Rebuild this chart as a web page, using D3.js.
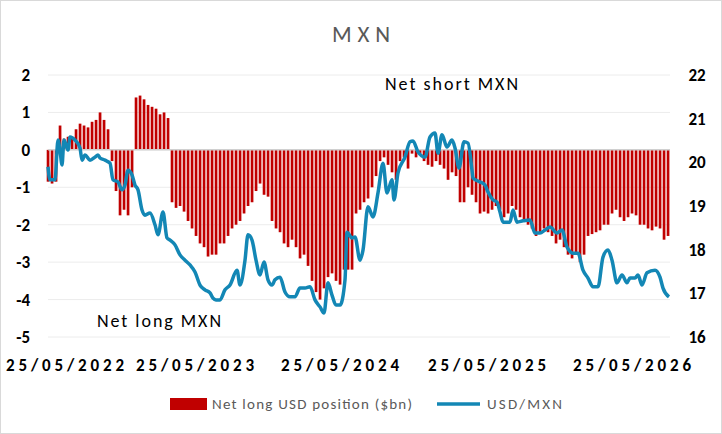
<!DOCTYPE html>
<html><head><meta charset="utf-8">
<script src="https://cdn.jsdelivr.net/npm/d3@7"></script>
<style>body{margin:0;background:#fff}text{font-family:Calibri,Carlito,"Liberation Sans",Arial,sans-serif}</style>
</head><body><svg id="c" width="722" height="434"></svg>
<script>
const barValues=[-0.85,-0.9,-0.85,0.65,0.3,0.35,0.3,0.55,0.7,0.65,0.6,0.75,0.8,1.0,0.8,0.55,-0.3,-1.1,-1.75,-1.6,-1.75,-1.0,1.4,1.45,1.35,1.2,1.15,1.1,0.95,1.0,0.85,-1.4,-1.55,-1.5,-1.65,-1.9,-2.1,-2.3,-2.5,-2.6,-2.85,-2.8,-2.8,-2.5,-2.5,-2.3,-2.1,-2.0,-1.9,-1.7,-1.5,-1.4,-1.1,-0.9,-1.2,-1.25,-1.9,-2.1,-2.2,-2.5,-2.6,-2.4,-2.6,-2.9,-2.8,-3.1,-3.5,-3.8,-4.0,-3.7,-3.4,-3.3,-3.5,-3.6,-3.2,-3.2,-3.2,-1.7,-1.6,-1.4,-1.3,-1.0,-0.7,-0.3,-0.2,-0.4,-0.6,-0.8,-0.3,-0.2,-0.5,-0.1,-0.2,-0.1,-0.3,-0.4,-0.45,-0.3,-0.4,-0.5,-0.8,-0.6,-0.7,-1.4,-1.4,-1.0,-1.2,-1.4,-1.7,-1.65,-1.7,-1.6,-1.5,-1.6,-1.8,-1.7,-1.5,-1.6,-1.8,-1.9,-2.0,-2.1,-2.3,-2.2,-2.1,-2.2,-2.3,-2.5,-2.4,-2.6,-2.8,-2.9,-2.8,-3.0,-2.8,-2.3,-2.25,-2.2,-2.15,-2.0,-2.0,-1.7,-1.6,-1.8,-1.9,-1.8,-1.7,-1.75,-2.0,-2.0,-2.1,-2.15,-2.05,-2.1,-2.4,-2.3];
const lineWeeks=[0,.5,1.75,2.5,3,3.5,4,5,5.5,6.75,8,8.5,9.25,10.5,11.75,12.5,13,14.25,15.5,16.25,17.5,18.5,19.25,20,21,21.75,22.5,23.5,24.25,25.5,26.75,27.5,28.75,29.75,30.5,31.75,33,34.25,35.5,36.75,38,39.25,40.5,41.25,42,43,44.25,45.5,47.25,48,49.25,50,51,52,53,54,55,56,56.75,58,59.25,60.5,61.75,63,64.25,65.5,66.75,68,69,70,71,72,73,74.25,74.75,76,76.75,78,78.75,80,81.25,82.5,83.75,84.75,86,86.5,87.5,89.25,90.5,91.25,92.5,94.25,95.5,96.75,97.5,98.5,99.75,101,101.75,102.75,104,105,106,106.25,108,109.25,110,111.25,112.25,113,113.75,115.5,116.25,117.25,118.75,120.5,121.75,123,124.25,125.5,127.25,128.5,129.75,131.25,132.5,133.75,135,136.25,137.5,138.75,140,141,142.25,143.5,144.75,145.5,146.75,147.5,148.5,149.75,151.75,153,153.75,155.25];
const usdmxn=[19.90,19.60,19.60,20.51,20.28,19.94,20.51,20.28,20.58,20.51,20.33,20.05,20.17,20.05,20.12,20.17,20.10,20.05,19.98,19.60,19.55,19.37,19.48,19.82,19.71,19.48,19.37,18.91,18.79,18.84,18.57,18.34,18.86,18.27,18.22,18.11,17.88,17.76,17.65,17.49,17.19,17.08,17.01,16.89,16.85,16.85,17.08,17.19,17.53,17.19,17.76,18.34,18.22,17.76,17.42,17.72,17.31,17.19,17.31,17.37,17.03,16.92,16.92,17.12,17.12,17.15,16.85,16.69,16.55,17.24,16.96,16.73,16.73,17.31,18.40,18.27,18.29,17.76,17.99,18.98,18.75,19.30,19.98,19.30,19.60,19.14,19.76,20.12,20.47,20.49,20.24,20.12,20.58,20.67,20.21,20.63,20.35,20.51,20.33,19.87,20.47,20.44,19.82,19.64,19.55,19.48,19.32,19.14,19.09,18.86,18.63,18.63,18.91,18.63,18.66,18.68,18.38,18.38,18.45,18.52,18.38,18.45,18.06,17.92,17.92,17.53,17.35,17.15,17.15,17.83,17.99,17.76,17.24,17.42,17.24,17.35,17.35,17.42,17.19,17.47,17.53,17.37,17.12,16.92];
const xTickWeeks=[4.25,36.75,73,109.75,146];
const xTickLabels=["25/05/2022","25/05/2023","25/05/2024","25/05/2025","25/05/2026"];
const leftTicks=[2,1,0,-1,-2,-3,-4,-5];
const rightTicks=[22,21,20,19,18,17,16];

const svg=d3.select("#c");
svg.append("rect").attr("x",0.5).attr("y",0.5).attr("width",721).attr("height",433).attr("fill","#fff").attr("stroke","#d9d9d9");
const x=d3.scaleLinear().domain([0,155.5]).range([48,670]);
const yL=d3.scaleLinear().domain([-5,2]).range([337,75]);
const yR=d3.scaleLinear().domain([16,22]).range([337,75]);
svg.append("g").selectAll("line").data(leftTicks).join("line")
 .attr("x1",48).attr("x2",670).attr("y1",d=>yL(d)).attr("y2",d=>yL(d)).attr("stroke","#ececec");
svg.append("g").selectAll("text").data(leftTicks).join("text")
 .attr("x",30).attr("y",d=>yL(d)+6).attr("text-anchor","end").attr("font-size",17).attr("font-weight","bold").attr("fill","#000").text(d=>d);
svg.append("g").selectAll("text").data(rightTicks).join("text")
 .attr("x",697).attr("y",d=>yR(d)+6).attr("text-anchor","middle").attr("font-size",17).attr("font-weight","bold").attr("fill","#000").text(d=>d);
svg.append("g").selectAll("rect").data(barValues).join("rect")
 .attr("x",(d,i)=>x(i)-1.3).attr("width",2.7)
 .attr("y",d=>yL(Math.max(0,d))).attr("height",d=>Math.abs(yL(d)-yL(0))).attr("fill","#c00000");
svg.append("line").attr("x1",48).attr("x2",670).attr("y1",yL(0)).attr("y2",yL(0)).attr("stroke","#d0d0d0").attr("stroke-width",1.5);
const pts=lineWeeks.map((w,i)=>[w,usdmxn[i]]);
svg.append("path").attr("d",d3.line().x(d=>x(d[0])).y(d=>yR(d[1])).curve(d3.curveMonotoneX)(pts))
 .attr("fill","none").attr("stroke","#1387b5").attr("stroke-width",3.5).attr("stroke-linejoin","round");
svg.append("g").selectAll("text").data(xTickWeeks).join("text")
 .attr("x",d=>x(d)).attr("y",371).attr("text-anchor","middle").attr("font-size",17).attr("font-weight","bold")
 .attr("textLength",118).attr("lengthAdjust","spacing").text((d,i)=>xTickLabels[i]);
svg.append("text").attr("x",361).attr("y",42).attr("text-anchor","middle").attr("font-size",23).attr("fill","#595959").attr("textLength",58).text("MXN");
svg.append("text").attr("x",385).attr("y",90).attr("font-size",18).attr("fill","#000").attr("textLength",133).text("Net short MXN");
svg.append("text").attr("x",97).attr("y",327).attr("font-size",18).attr("fill","#000").attr("textLength",124).text("Net long MXN");
svg.append("rect").attr("x",170).attr("y",398).attr("width",37).attr("height",12).attr("fill","#c00000");
svg.append("text").attr("x",212).attr("y",409).attr("font-size",15).attr("fill","#595959").attr("textLength",200).text("Net long USD position ($bn)");
svg.append("line").attr("x1",437).attr("x2",480).attr("y1",404).attr("y2",404).attr("stroke","#1387b5").attr("stroke-width",3.5);
svg.append("text").attr("x",487).attr("y",409).attr("font-size",15).attr("fill","#595959").attr("textLength",75).text("USD/MXN");
</script></body></html>
